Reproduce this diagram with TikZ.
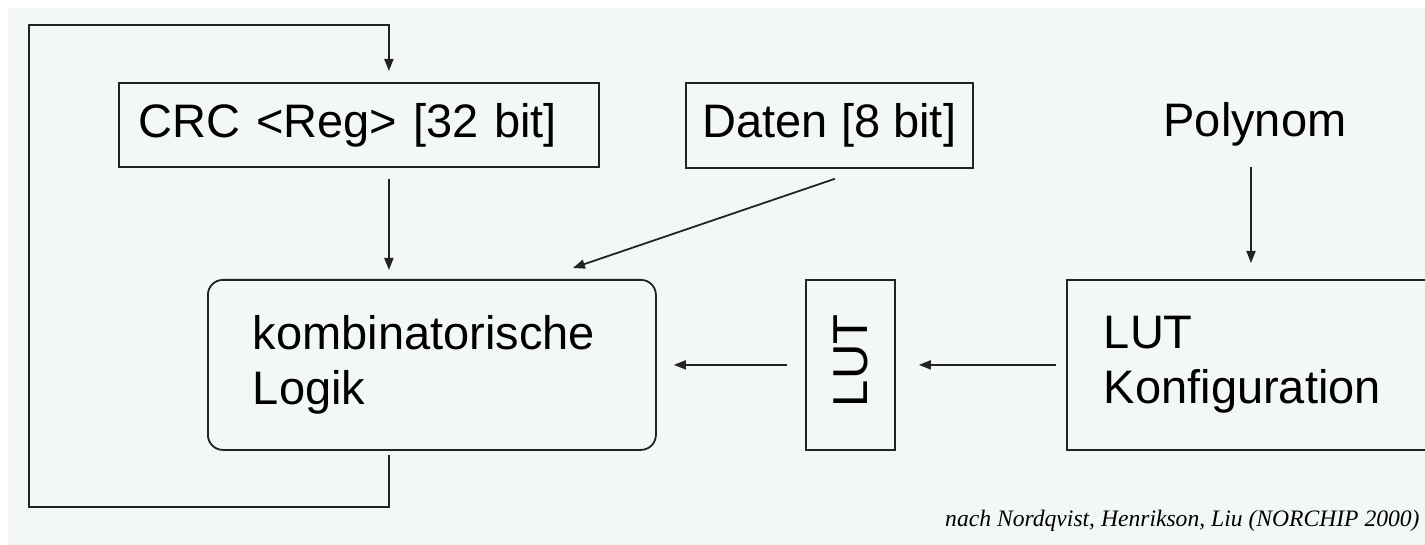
\documentclass[tikz,border=0pt]{standalone}
\usepackage{fontspec}
\setmainfont{Liberation Sans}
\newfontfamily\notefont{Liberation Serif}
\usetikzlibrary{arrows.meta}
\definecolor{paper}{RGB}{244,248,245}
\definecolor{ink}{RGB}{35,35,35}
\begin{document}
\begin{tikzpicture}[x=0.5pt,y=-0.5pt,
  box/.style={draw=ink, line width=0.9pt, inner ysep=0pt, anchor=north west,
              font=\fontsize{23.5}{27.5}\selectfont},
  wire/.style={draw=ink, line width=0.9pt},
  flow/.style={wire, -{Triangle[length=6pt,width=4.5pt]}}
]
\useasboundingbox (0,0) rectangle (1425,545);
\clip (0,0) rectangle (1425,545);
\fill[paper] (8,8) rectangle (1425,545);

% blocks
\node[box, minimum height=42pt, text width=220pt, inner xsep=10pt, align=left]
  (crc) at (118,82) {CRC <Reg> [32 bit]};
\node[box, minimum height=42.5pt, minimum width=143.5pt, inner xsep=0pt]
  (daten) at (685,82) {Daten [8 bit]};
\node[box, rounded corners=7.5pt, minimum height=85pt, text width=179pt,
      inner xsep=22.5pt, align=left]
  (komb) at (207,279) {kombinatorische\\Logik};
\node[box, minimum height=85pt, minimum width=44.5pt, inner xsep=0pt]
  (lut) at (805,279) {};
\node[rotate=90, inner sep=0pt, font=\fontsize{24.5}{30}\selectfont]
  (luttext) at ([yshift=2pt]lut.center) {LUT};
\node[box, minimum height=85pt, text width=150pt, inner xsep=18.5pt, align=left]
  (konfig) at (1066,279) {LUT\\Konfiguration};
\node[anchor=base, inner sep=0pt, font=\fontsize{23.5}{27.5}\selectfont]
  (poly) at (1255,137) {Polynom};
\node[anchor=base east, inner sep=0pt, font=\notefont\itshape\fontsize{11.8}{14}\selectfont]
  (src) at (1420,526) {nach Nordqvist, Henrikson, Liu (NORCHIP 2000)};

% connectors
\coordinate (fb) at ([xshift=15pt]crc.south);
\coordinate (kb) at (fb |- komb.south);
\coordinate (loopcorner) at (29,25);
\coordinate (pa) at (1251,167);

\draw[flow, shorten <=5.5pt, shorten >=4.5pt] (fb) -- (fb |- komb.north);
\draw[flow] ([xshift=2.75pt,yshift=-5pt]daten.south) -- ([xshift=70.5pt,yshift=5.5pt]komb.north);
\draw[flow, shorten >=8pt] (pa) -- (pa |- konfig.north);
\draw[flow, shorten <=5pt, shorten >=11.5pt] (konfig.west) -- (lut.east);
\draw[flow, shorten <=9pt, shorten >=8.5pt] (lut.west) -- (komb.east);
\draw[flow, shorten >=5.5pt] ([yshift=-2pt]kb) -- ++(0,52) -| (loopcorner) -| ([xshift=15pt]crc.north);
\end{tikzpicture}
\end{document}
